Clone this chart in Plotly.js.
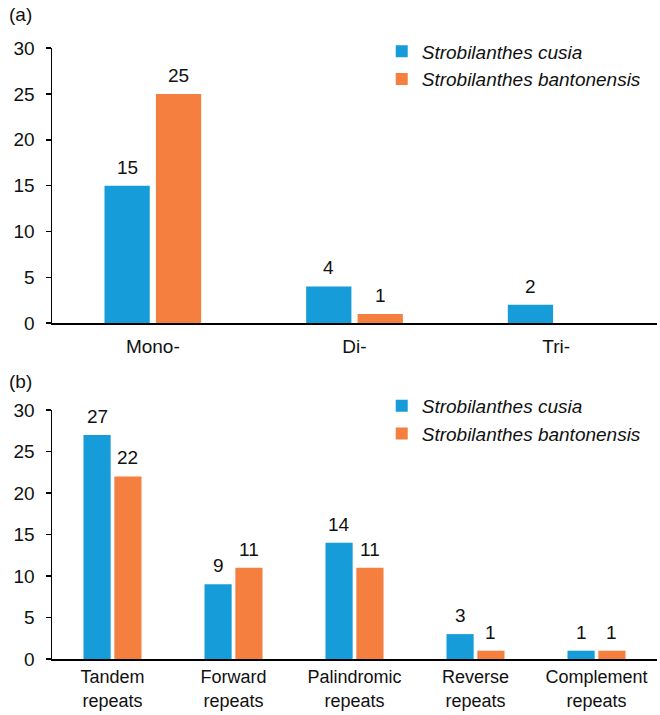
<!DOCTYPE html>
<html>
<head>
<meta charset="utf-8">
<script src="https://cdn.plot.ly/plotly-3.0.1.min.js"></script>
<style>html,body{margin:0;padding:0;background:#fff;}#chart{width:660px;height:715px;}</style>
</head>
<body>
<div id="chart"></div>
<script>
const seriesNames = ["Strobilanthes cusia", "Strobilanthes bantonensis"];
const catsA = ["Mono-", "Di-", "Tri-"];
const cusiaA = [15, 4, 2];
const bantoA = [25, 1, 0];
const catsB = ["Tandem<br>repeats", "Forward<br>repeats", "Palindromic<br>repeats", "Reverse<br>repeats", "Complement<br>repeats"];
const cusiaB = [27, 9, 14, 3, 1];
const bantoB = [22, 11, 11, 1, 1];

const blue = "#169cd8";
const orange = "#f47f3e";
const FONT = "Liberation Sans, Arial, sans-serif";
const FS = 19;
const BARGAP = 0.49, GROUPGAP = 0.12;
const slot = (1 - BARGAP) / 2;

function bar(x, y, name, color, xa, ya, leg) {
  return {
    type: "bar", x: x, y: y, name: "<i>" + name + "</i>",
    marker: {color: color},
    xaxis: xa, yaxis: ya, legend: leg, showlegend: true,
    hoverinfo: "x+y"
  };
}

const data = [
  bar(catsA, cusiaA, seriesNames[0], blue, "x", "y", "legend"),
  bar(catsA, bantoA, seriesNames[1], orange, "x", "y", "legend"),
  bar(catsB, cusiaB, seriesNames[0], blue, "x2", "y2", "legend2"),
  bar(catsB, bantoB, seriesNames[1], orange, "x2", "y2", "legend2")
];

// value labels placed through the axes (category index +/- half a slot)
const annotations = [];
function addLabels(vals, side, xref, yref) {
  vals.forEach((v, i) => {
    if (v === 0) return;
    annotations.push({
      x: i + side * slot / 2, y: v, xref: xref, yref: yref,
      text: String(v), showarrow: false, yanchor: "bottom", yshift: 6,
      font: {size: FS, color: "#111", family: FONT}
    });
  });
}
addLabels(cusiaA, -1, "x", "y");
addLabels(bantoA, 1, "x", "y");
addLabels(cusiaB, -1, "x2", "y2");
addLabels(bantoB, 1, "x2", "y2");

annotations.push(
  {text: "(a)", xref: "paper", yref: "paper", x: -0.075, y: 1.04, xanchor: "left", yanchor: "middle", showarrow: false, font: {size: FS, color: "#111", family: FONT}},
  {text: "(b)", xref: "paper", yref: "paper", x: -0.075, y: 0.453, xanchor: "left", yanchor: "middle", showarrow: false, font: {size: FS, color: "#111", family: FONT}}
);

const yax = (domain, anchor) => ({
  domain: domain, anchor: anchor, range: [0, 30], dtick: 5,
  showgrid: false, zeroline: false, showline: true, linecolor: "#000", linewidth: 1.5,
  ticks: "outside", ticklen: 5, tickcolor: "#000", tickwidth: 1.5, ticklabelstandoff: 7,
  tickfont: {size: FS, color: "#111", family: FONT}
});
const xax = (anchor, n, fs, standoff) => ({
  anchor: anchor, domain: [0, 1], range: [-0.5, n - 0.5],
  showgrid: false, zeroline: false, showline: true, linecolor: "#000", linewidth: 1.5,
  ticks: "", ticklabelstandoff: standoff, tickfont: {size: fs, color: "#111", family: FONT}
});

const legendCfg = (y) => ({
  x: 0.545, y: y, xanchor: "left", yanchor: "top",
  font: {size: FS, color: "#111", family: FONT},
  bgcolor: "rgba(0,0,0,0)", tracegroupgap: 0, itemwidth: 30
});

const layout = {
  width: 660, height: 715,
  margin: {l: 52, r: 3, t: 40, b: 50},
  paper_bgcolor: "#fff", plot_bgcolor: "#fff",
  barmode: "group", bargap: BARGAP, bargroupgap: GROUPGAP,
  font: {family: FONT, color: "#111"},
  xaxis: xax("y", catsA.length, FS, 6),
  yaxis: yax([0.547, 0.987], "x"),
  xaxis2: xax("y2", catsB.length, 18, 1),
  yaxis2: yax([0.0096, 0.408], "x2"),
  legend: legendCfg(1.012),
  legend2: legendCfg(0.445),
  annotations: annotations
};

Plotly.newPlot("chart", data, layout, {staticPlot: true, displayModeBar: false});
</script>
</body>
</html>
